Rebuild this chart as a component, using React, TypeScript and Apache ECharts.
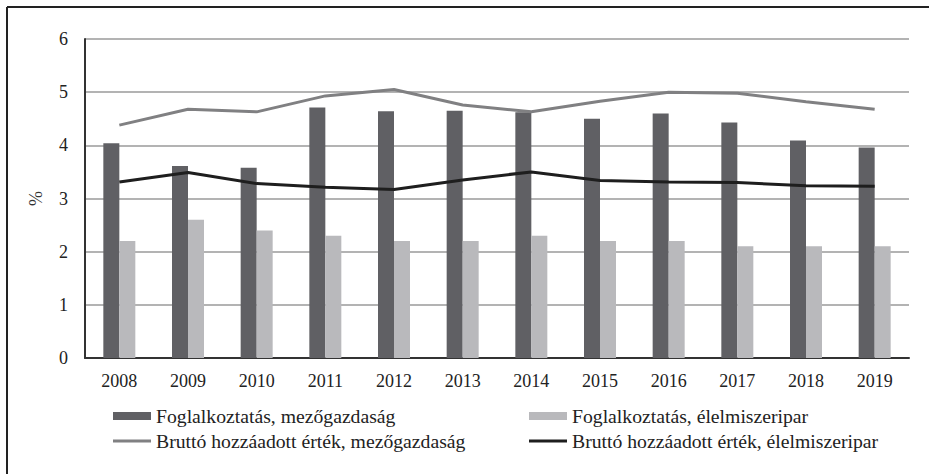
import React, { useEffect, useRef } from "react";
import * as echarts from "echarts";

const years = ["2008", "2009", "2010", "2011", "2012", "2013", "2014", "2015", "2016", "2017", "2018", "2019"];
const employmentAgri = [4.04, 3.61, 3.58, 4.71, 4.64, 4.65, 4.62, 4.5, 4.6, 4.43, 4.09, 3.96];
const employmentFood = [2.2, 2.6, 2.4, 2.3, 2.2, 2.2, 2.3, 2.2, 2.2, 2.1, 2.1, 2.1];
const gvaAgri = [4.38, 4.68, 4.63, 4.93, 5.05, 4.76, 4.63, 4.83, 5.0, 4.98, 4.82, 4.68];
const gvaFood = [3.31, 3.49, 3.28, 3.21, 3.17, 3.35, 3.5, 3.34, 3.31, 3.3, 3.24, 3.23];

const names = [
  "Foglalkoztatás, mezőgazdaság",
  "Foglalkoztatás, élelmiszeripar",
  "Bruttó hozzáadott érték, mezőgazdaság",
  "Bruttó hozzáadott érték, élelmiszeripar",
];

const FONT = "Liberation Serif";

export default function App() {
  const ref = useRef<HTMLDivElement>(null);
  useEffect(() => {
    if (!ref.current) return;
    const chart = echarts.init(ref.current, null, { renderer: "svg" });
    const mkLegend = (name: string, left: number, top: number, isLine: boolean) => ({
      data: [{ name, icon: "rect" }],
      left,
      top,
      itemWidth: 38,
      itemHeight: isLine ? 3 : 8,
      itemGap: 0,
      padding: 0,
      textStyle: { fontFamily: FONT, fontSize: 19.7, color: "#222" },
      selectedMode: false,
    });
    chart.setOption({
      animation: false,
      backgroundColor: "#fff",
      textStyle: { fontFamily: FONT, fontSize: 18, color: "#222" },
      grid: { left: 85, right: 20, top: 39, bottom: 116 },
      legend: [
        mkLegend(names[0], 113, 406, false),
        mkLegend(names[1], 529, 406, false),
        mkLegend(names[2], 113, 431, true),
        mkLegend(names[3], 529, 431, true),
      ],
      xAxis: {
        type: "category",
        data: years,
        axisLine: { lineStyle: { color: "#333", width: 2 } },
        axisTick: { show: false },
        axisLabel: { fontFamily: FONT, fontSize: 18, color: "#222", margin: 14 },
      },
      yAxis: {
        type: "value",
        min: 0,
        max: 6,
        interval: 1,
        name: "%",
        nameLocation: "middle",
        nameRotate: 90,
        nameGap: 40,
        nameTextStyle: { fontFamily: FONT, fontSize: 18, color: "#333" },
        axisLine: { show: true, lineStyle: { color: "#333", width: 2 } },
        axisTick: { show: false },
        axisLabel: { fontFamily: FONT, fontSize: 18, color: "#222", margin: 17 },
        splitLine: { lineStyle: { color: "#b3b3b3", width: 2 } },
      },
      series: [
        {
          name: names[0],
          type: "bar",
          data: employmentAgri,
          barWidth: 16,
          barGap: "0%",
          itemStyle: { color: "#606064" },
        },
        {
          name: names[1],
          type: "bar",
          data: employmentFood,
          barWidth: 16,
          barGap: "0%",
          itemStyle: { color: "#b9b9bc" },
        },
        {
          name: names[2],
          type: "line",
          data: gvaAgri,
          symbol: "none",
          lineStyle: { color: "#808082", width: 3 },
          itemStyle: { color: "#808082" },
          z: 3,
        },
        {
          name: names[3],
          type: "line",
          data: gvaFood,
          symbol: "none",
          lineStyle: { color: "#1e1e1e", width: 3 },
          itemStyle: { color: "#1e1e1e" },
          z: 4,
        },
      ],
      graphic: [
        { type: "line", shape: { x1: 7, y1: 7, x2: 929, y2: 7 }, style: { stroke: "#222", lineWidth: 2 } },
        { type: "line", shape: { x1: 7, y1: 7, x2: 7, y2: 474 }, style: { stroke: "#222", lineWidth: 2 } },
      ],
    });
    return () => chart.dispose();
  }, []);
  return (
    <div
      ref={ref}
      style={{ position: "fixed", left: 0, top: 0, width: 929, height: 474 }}
    />
  );
}
